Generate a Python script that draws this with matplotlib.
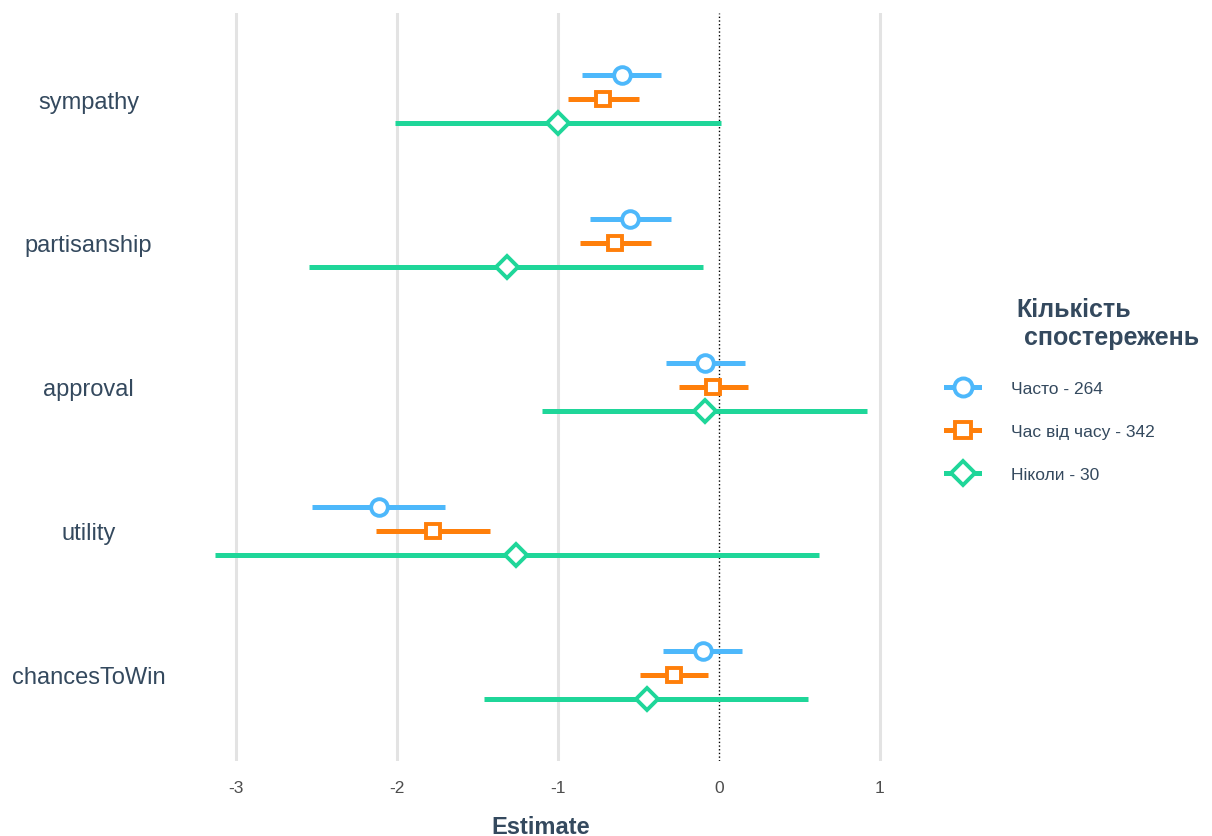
import matplotlib
matplotlib.use('Agg')
import matplotlib.pyplot as plt
from matplotlib.lines import Line2D

plt.rcParams['font.family'] = ['Liberation Sans', 'DejaVu Sans']

categories = ['sympathy', 'partisanship', 'approval', 'utility', 'chancesToWin']
group_names = ['Часто - 264', 'Час від часу - 342', 'Ніколи - 30']

often_est = [-0.60, -0.55, -0.09, -2.11, -0.10]
often_lo = [-0.85, -0.80, -0.33, -2.53, -0.35]
often_hi = [-0.36, -0.30, 0.16, -1.70, 0.14]

sometimes_est = [-0.72, -0.645, -0.04, -1.78, -0.28]
sometimes_lo = [-0.94, -0.865, -0.25, -2.13, -0.49]
sometimes_hi = [-0.50, -0.425, 0.18, -1.42, -0.07]

never_est = [-1.00, -1.32, -0.09, -1.26, -0.45]
never_lo = [-2.01, -2.545, -1.10, -3.13, -1.46]
never_hi = [0.01, -0.097, 0.92, 0.62, 0.555]

colors = ['#4db8fb', '#ff7f0a', '#1fd699']
markers = ['o', 's', 'D']
msizes = [12, 10.5, 11]
offsets = [-1/6, 0, 1/6]
txt = '#34495e'

fig = plt.figure(figsize=(12.12, 8.37), dpi=100)
ax = fig.add_axes([0.151, 0.0896, 0.591, 0.894])

ax.axvline(0, color='black', ls=':', lw=1, zorder=2)
for xv in [-3, -2, -1, 1]:
    ax.axvline(xv, color='#e3e3e3', lw=2.2, zorder=0)

series = [(often_est, often_lo, often_hi),
          (sometimes_est, sometimes_lo, sometimes_hi),
          (never_est, never_lo, never_hi)]
pos = list(range(len(categories)))
for i, (est, lo, hi) in enumerate(series):
    yy = [p + offsets[i] for p in pos]
    ax.hlines(yy, lo, hi, color=colors[i], lw=3.6, zorder=3)
    ax.plot(est, yy, ls='none', marker=markers[i], ms=msizes[i], mfc='white',
            mec=colors[i], mew=2.8, zorder=4)

ax.set_xlim(-3.33, 1.12)
ax.set_ylim(4.6, -0.6)
ax.set_yticks(pos)
ax.set_yticklabels(categories, fontsize=17, color=txt, ha='center')
ax.tick_params(axis='y', length=0, pad=68)
ax.set_xticks([-3, -2, -1, 0, 1])
ax.set_xticklabels(['-3', '-2', '-1', '0', '1'], fontsize=12.5, color='#4d4d4d')
ax.tick_params(axis='x', length=0, pad=14)
ax.set_xlabel('Estimate', fontsize=17, fontweight='bold', color=txt, labelpad=14)
for s in ax.spines.values():
    s.set_visible(False)

handles = [Line2D([0], [0], color=colors[i], lw=3.6, marker=markers[i], ms=msizes[i] + 1,
                  mfc='white', mec=colors[i], mew=2.8) for i in range(3)]
fig.text(0.839, 0.582, 'Кількість\n спостережень', fontsize=18, fontweight='bold',
         color=txt, va='bottom', ha='left', linespacing=1.2)
fig.legend(handles, group_names, loc='upper left', bbox_to_anchor=(0.768, 0.562),
           frameon=False, fontsize=12.5, labelcolor=txt, handlelength=1.9,
           handletextpad=1.8, labelspacing=1.6)

fig.savefig('out.png', dpi=100)
